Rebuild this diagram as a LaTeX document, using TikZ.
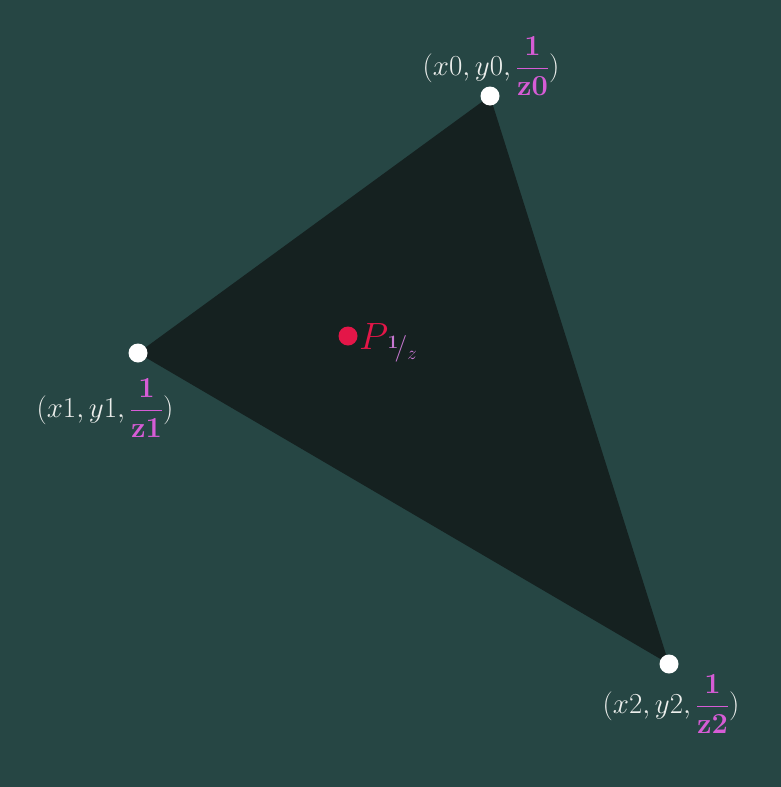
\RequirePackage{fix-cm}
\documentclass[tikz,border=0pt]{standalone}
\usepackage{tikz}
\usetikzlibrary{positioning}
\definecolor{slate}{RGB}{38,70,68}
\definecolor{trifill}{RGB}{21,33,32}
\definecolor{vwhite}{RGB}{236,238,236}
\definecolor{recip}{RGB}{214,92,214}
\definecolor{pcrim}{RGB}{228,22,72}
\definecolor{psub}{RGB}{200,120,210}
\tikzset{
  vdot/.style  = {circle, fill=white, minimum size=19pt, inner sep=0pt},
  pdot/.style  = {vdot, fill=pcrim},
  vlab/.style  = {text=vwhite, font=\fontsize{29}{34}\selectfont, inner sep=0pt},
  plab/.style  = {text=pcrim, font=\fontsize{38}{42}\selectfont, inner sep=0pt},
  tri/.style   = {fill=trifill},
}
\newcommand{\recz}[1]{\textcolor{recip}{\displaystyle\frac{\mathbf{1}}{\mathbf{z#1}}}}

\begin{document}
\begin{tikzpicture}[x=1pt, y=-1pt]
    \fill[slate] (0,0) rectangle (781,787);
    \useasboundingbox (0,0) rectangle (781,787);

    \coordinate (c0) at (490, 96);
    \coordinate (c1) at (138, 353);
    \coordinate (c2) at (669, 664);
    \fill[tri] (c0) -- (c1) -- (c2) -- cycle;

    \node[vdot] (v0) at (c0) {};
    \node[vdot] (v1) at (c1) {};
    \node[vdot] (v2) at (c2) {};

    \node[vlab] (l0) at (491, 66)  {$(x0, y0, \recz{0})$};
    \node[vlab] (l1) at (105, 408) {$(x1, y1, \recz{1})$};
    \node[vlab] (l2) at (671, 704) {$(x2, y2, \recz{2})$};

    \node[pdot] (p) at (348, 336) {};
    \node[plab, anchor=base west] (pl) at (359, 349)
      {$P_{\,\textcolor{psub}{{}^{\mathbf{1}}\!/_{z}}}$};
  \end{tikzpicture}
\end{document}
